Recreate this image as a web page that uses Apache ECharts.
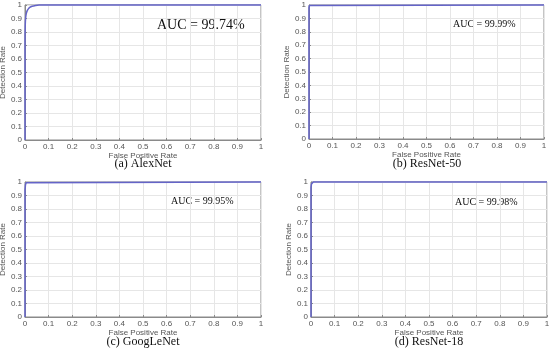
<!DOCTYPE html>
<html><head><meta charset="utf-8">
<script src="https://cdn.jsdelivr.net/npm/echarts@6/dist/echarts.min.js"></script>
<style>html,body{margin:0;padding:0;background:#fff}#c{width:550px;height:349px}</style>
</head><body><div id="c"></div>
<script>
// ROC data
var alexFpr = [0, 0, 0.001, 0.003, 0.006, 0.01, 0.015, 0.02, 0.03, 0.045, 0.06, 0.1, 1];
var alexTpr = [0, 0.72, 0.85, 0.91, 0.94, 0.96, 0.973, 0.982, 0.991, 0.997, 1, 1, 1];
var res50Fpr = [0, 0, 0.002, 0.005, 1];
var res50Tpr = [0, 0.98, 0.996, 1, 1];
var googFpr = [0, 0, 0.002, 0.005, 0.01, 1];
var googTpr = [0, 0.94, 0.98, 0.995, 1, 1];
var res18Fpr = [0, 0, 0.002, 0.005, 0.01, 1];
var res18Tpr = [0, 0.96, 0.985, 0.997, 1, 1];
var panelTitles = ['(a) AlexNet', '(b) ResNet-50', '(c) GoogLeNet', '(d) ResNet-18'];
var aucLabels = ['AUC = 99.74%', 'AUC = 99.99%', 'AUC = 99.95%', 'AUC = 99.98%'];
var xName = 'False Positive Rate';
var yName = 'Detection Rate';

var grids = [
  {left: 25, top: 5, width: 236, height: 135},
  {left: 309, top: 5, width: 235, height: 134},
  {left: 25, top: 182, width: 236, height: 135},
  {left: 311, top: 182, width: 236, height: 135}
];
var seriesData = [[alexFpr, alexTpr], [res50Fpr, res50Tpr], [googFpr, googTpr], [res18Fpr, res18Tpr]];
function pairs(xs, ys) { return xs.map(function (x, i) { return [x, ys[i]]; }); }

var lbl = {fontFamily: 'Liberation Sans, Arial', fontSize: 8, color: '#555', margin: 3};
var xAxes = [], yAxes = [], series = [], graphics = [];
grids.forEach(function (g, i) {
  g.show = true; g.borderColor = '#8a8a8a'; g.borderWidth = 1; g.backgroundColor = '#fff';
  g.outerBoundsMode = 'none'; g.containLabel = false;
  xAxes.push({type: 'value', gridIndex: i, min: 0, max: 1, interval: 0.1,
    name: xName, nameLocation: 'middle', nameGap: 11,
    nameTextStyle: {fontFamily: 'Liberation Sans, Arial', fontSize: 8, color: '#555'},
    axisLine: {show: true, lineStyle: {color: '#8a8a8a'}},
    axisTick: {show: true, inside: true, length: 2, lineStyle: {color: '#8a8a8a'}},
    axisLabel: Object.assign({formatter: function (v) { return +v.toFixed(1) + ''; }}, lbl),
    splitLine: {show: true, lineStyle: {color: '#e6e6e6'}}});
  yAxes.push({type: 'value', gridIndex: i, min: 0, max: 1, interval: 0.1,
    name: yName, nameLocation: 'middle', nameGap: 16,
    nameTextStyle: {fontFamily: 'Liberation Sans, Arial', fontSize: 8, color: '#555'},
    axisLine: {show: true, lineStyle: {color: '#8a8a8a'}},
    axisTick: {show: true, inside: true, length: 2, lineStyle: {color: '#8a8a8a'}},
    axisLabel: Object.assign({formatter: function (v) { return +v.toFixed(1) + ''; }}, lbl),
    splitLine: {show: true, lineStyle: {color: '#e6e6e6'}}});
  series.push({type: 'line', xAxisIndex: i, yAxisIndex: i, showSymbol: false, clip: false,
    smooth: i === 0 ? 0.3 : false,
    data: pairs(seriesData[i][0], seriesData[i][1]),
    lineStyle: {color: '#6464c8', width: 1.5}, silent: true});
});

var titlePos = [[143, 164], [427, 164], [143, 342], [429, 342]];
var aucPos = [[157, 25, 14], [453, 24, 10], [171, 201, 10], [455, 202, 10]];
titlePos.forEach(function (p, i) {
  graphics.push({type: 'text', x: p[0], y: p[1], style: {text: panelTitles[i], fontFamily: 'Liberation Serif, Times New Roman', fontSize: 12, fill: '#111', align: 'center', verticalAlign: 'middle'}});
  graphics.push({type: 'text', x: aucPos[i][0], y: aucPos[i][1], style: {text: aucLabels[i], fontFamily: 'Liberation Serif, Times New Roman', fontSize: aucPos[i][2], fill: '#111', align: 'left', verticalAlign: 'middle'}});
});

var chart = echarts.init(document.getElementById('c'), null, {renderer: 'canvas'});
chart.setOption({animation: false, backgroundColor: '#fff', grid: grids, xAxis: xAxes, yAxis: yAxes, series: series, graphic: graphics});
</script></body></html>
